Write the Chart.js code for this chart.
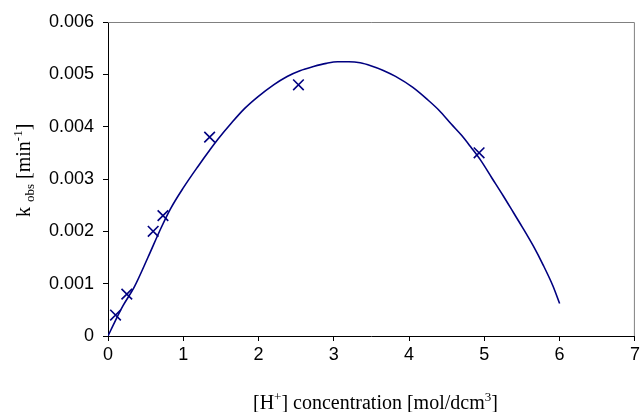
<!DOCTYPE html>
<html>
<head>
<meta charset="utf-8">
<script src="https://cdn.jsdelivr.net/npm/chart.js@4/dist/chart.umd.min.js"></script>
<style>
html,body{margin:0;padding:0;background:#fff;}
#wrap{position:relative;width:644px;height:412px;}
</style>
</head>
<body>
<div id="wrap"><canvas id="c" width="644" height="412"></canvas></div>
<script>
// Measured points
const measuredX = [0.1, 0.25, 0.6, 0.73, 1.35, 2.53, 4.93];
const measuredY = [0.0004, 0.0008, 0.0020, 0.0023, 0.0038, 0.0048, 0.0035];
// Fitted curve
const curveX = [0, 0.1, 0.2, 0.35, 0.53, 0.7, 0.83, 1.0, 1.2, 1.35, 1.46, 1.64, 1.81, 1.99, 2.2, 2.38, 2.55, 2.73, 2.9, 3.05, 3.2, 3.35, 3.5, 3.65, 3.82, 4.05, 4.25, 4.4, 4.56, 4.7, 4.82, 4.95, 5.1, 5.25, 5.39, 5.5, 5.65, 5.78, 5.91, 6.0];
const curveY = [0, 0.0003, 0.00058, 0.00094, 0.0015, 0.00205, 0.00243, 0.00283, 0.00325, 0.00355, 0.00376, 0.00407, 0.00434, 0.00457, 0.0048, 0.00496, 0.00507, 0.00515, 0.00521, 0.00524, 0.00524, 0.00522, 0.00516, 0.00508, 0.00496, 0.00475, 0.00451, 0.00431, 0.00405, 0.00383, 0.00361, 0.00336, 0.00302, 0.00268, 0.00235, 0.00209, 0.00172, 0.00136, 0.00096, 0.00062];
// Axis ticks
const xTicks = [0, 1, 2, 3, 4, 5, 6, 7];
const yTicks = [0, 0.001, 0.002, 0.003, 0.004, 0.005, 0.006];

const NAVY = '#000080';

const decor = {
  id: 'decor',
  beforeDatasetsDraw(chart) {
    const {ctx, chartArea: a} = chart;
    ctx.save();
    ctx.strokeStyle = '#808080';
    ctx.lineWidth = 1;
    ctx.beginPath();
    ctx.moveTo(a.left, a.top + 0.5);
    ctx.lineTo(a.right - 0.5, a.top + 0.5);
    ctx.lineTo(a.right - 0.5, a.bottom);
    ctx.stroke();
    ctx.restore();
  },
  afterDraw(chart) {
    const ctx = chart.ctx;
    const big = '20px "Liberation Serif", "Times New Roman", serif';
    const small = '13px "Liberation Serif", "Times New Roman", serif';
    ctx.save();
    ctx.fillStyle = '#000';
    ctx.textBaseline = 'alphabetic';
    ctx.textAlign = 'left';
    // X title
    const xParts = [
      ['[H', big, 0], ['+', small, -8], ['] concentration [mol/dcm', big, 0], ['3', small, -8], [']', big, 0]
    ];
    let x = 253, y = 409;
    for (const [t, f, dy] of xParts) {
      ctx.font = f;
      ctx.fillText(t, x, y + dy);
      x += ctx.measureText(t).width;
    }
    // Y title (rotated)
    const yParts = [
      ['k ', big, 0], ['obs', small, 4], [' [min', big, 0], ['-1', small, -8], [']', big, 0]
    ];
    ctx.translate(30, 217);
    ctx.rotate(-Math.PI / 2);
    x = 0;
    for (const [t, f, dy] of yParts) {
      ctx.font = f;
      ctx.fillText(t, x, dy);
      x += ctx.measureText(t).width;
    }
    ctx.restore();
  }
};

const tickFont = {family: '"Liberation Sans", Arial, sans-serif', size: 18};

new Chart(document.getElementById('c'), {
  type: 'scatter',
  data: {
    datasets: [
      {
        label: 'fit',
        data: curveX.map((v, i) => ({x: v, y: curveY[i]})),
        showLine: true,
        borderColor: NAVY,
        borderWidth: 1.6,
        pointRadius: 0,
        cubicInterpolationMode: 'monotone',
        fill: false
      },
      {
        label: 'measured',
        data: measuredX.map((v, i) => ({x: v, y: measuredY[i]})),
        showLine: false,
        pointStyle: 'crossRot',
        pointRadius: 7.5,
        borderColor: NAVY,
        backgroundColor: NAVY,
        pointBorderWidth: 1.6
      }
    ]
  },
  options: {
    responsive: false,
    animation: false,
    layout: {padding: {top: 22, right: 1, left: 0, bottom: 0}},
    plugins: {legend: {display: false}, tooltip: {enabled: false}},
    scales: {
      x: {
        type: 'linear',
        min: 0, max: 7,
        afterBuildTicks: s => { s.ticks = xTicks.map(v => ({value: v})); },
        afterFit: s => { s.height = 76; s.paddingLeft = 0; s.paddingRight = 0; },
        grid: {display: true, drawOnChartArea: false, drawTicks: true, tickLength: 5, color: '#000'},
        border: {display: true, color: '#000', width: 1},
        ticks: {color: '#000', font: tickFont, padding: 3, maxRotation: 0,
          callback: v => String(v)}
      },
      y: {
        type: 'linear',
        min: 0, max: 0.006,
        afterBuildTicks: s => { s.ticks = yTicks.map(v => ({value: v})); },
        afterFit: s => { s.width = 108; s.paddingTop = 0; s.paddingBottom = 0; },
        grid: {display: true, drawOnChartArea: false, drawTicks: true, tickLength: 5, color: '#000'},
        border: {display: true, color: '#000', width: 1},
        ticks: {color: '#000', font: tickFont, padding: 9,
          callback: v => v === 0 ? '0' : v.toFixed(3)}
      }
    }
  },
  plugins: [decor]
});
</script>
</body>
</html>
